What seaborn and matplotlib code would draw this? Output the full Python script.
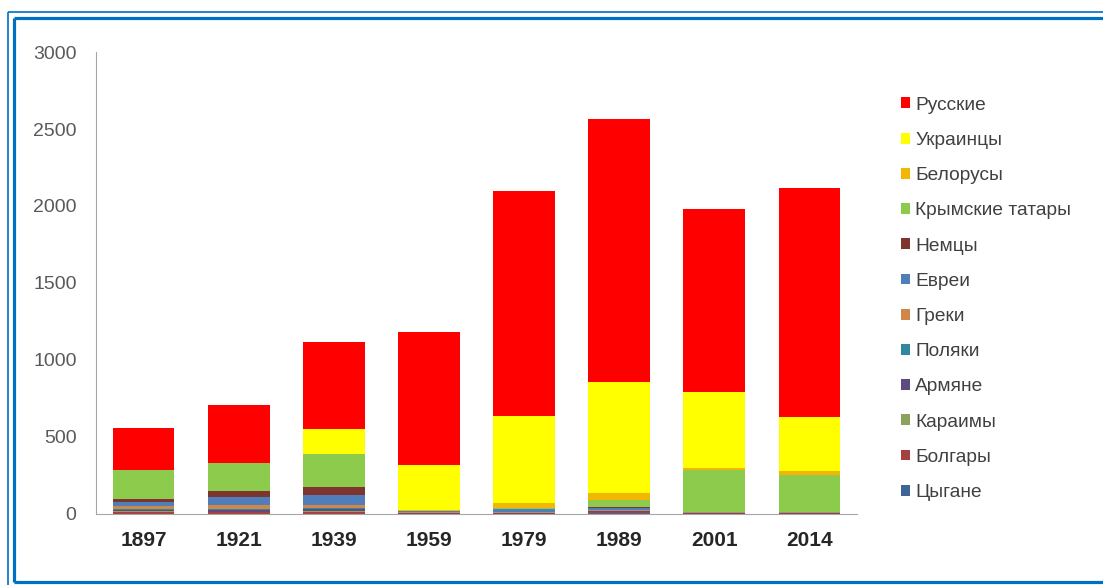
import numpy as np
import pandas as pd
import seaborn as sns
import matplotlib.pyplot as plt
from matplotlib.lines import Line2D

# годы переписей
years = ["1897", "1921", "1939", "1959", "1979", "1989", "2001", "2014"]

# численность, тыс. чел. (снизу вверх по стопке)
tsygane     = [3, 0, 0, 0, 0, 9, 0, 0]
bolgary     = [8, 11, 15, 2, 2, 2, 2, 2]
karaimy     = [6, 5, 5, 0, 0, 1, 0, 0]
armyane     = [8, 10, 13, 3, 2, 5, 5, 6]
polyaki     = [7, 5, 5, 2, 5, 5, 0, 0]
greki       = [18, 28, 21, 3, 3, 3, 3, 3]
evrei       = [25, 54, 65, 8, 18, 17, 3, 2]
nemtsy      = [23, 37, 51, 0, 2, 2, 2, 2]
krym_tatary = [189, 182, 217, 0, 5, 48, 273, 240]
belorusy    = [0, 0, 0, 8, 37, 47, 10, 22]
ukraintsy   = [0, 0, 162, 290, 562, 720, 491, 353]
russkie     = [272, 374, 566, 866, 1464, 1707, 1193, 1489]

groups = ["Цыгане", "Болгары", "Караимы", "Армяне", "Поляки", "Греки",
          "Евреи", "Немцы", "Крымские татары", "Белорусы", "Украинцы", "Русские"]
series = [tsygane, bolgary, karaimy, armyane, polyaki, greki,
          evrei, nemtsy, krym_tatary, belorusy, ukraintsy, russkie]
colors = ["#3F6496", "#A5403F", "#8EA35A", "#5E4A80", "#31889E", "#D1874A",
          "#4F7EBA", "#7E3530", "#8CCB4C", "#F2B705", "#FFFF00", "#FF0000"]

df = pd.DataFrame(dict(zip(groups, series)), index=years)

fig = plt.figure(figsize=(11.03, 5.85), dpi=100)
ax = fig.add_axes([0.087, 0.1214, 0.690, 0.7897])

bottom = np.zeros(len(years))
for g, c in zip(groups, colors):
    sns.barplot(x=years, y=df[g].values, bottom=bottom, color=c, width=0.65,
                label=g, ax=ax, saturation=1, linewidth=0)
    bottom += df[g].values

ax.set_ylim(0, 3000)
ax.set_yticks(range(0, 3001, 500))
ax.set_xlim(-0.5, len(years) - 0.5)
for s in ["top", "right"]:
    ax.spines[s].set_visible(False)
ax.spines["left"].set_color("#A6A6A6")
ax.spines["bottom"].set_color("#A6A6A6")
ax.tick_params(axis="both", length=0)
ax.tick_params(axis="y", pad=14, labelsize=14, labelcolor="#595959")
ax.tick_params(axis="x", pad=12)
for t in ax.get_xticklabels():
    t.set_fontfamily(["Liberation Sans", "DejaVu Sans"])
    t.set_fontweight("bold")
    t.set_fontsize(15)
    t.set_color("#262626")
for t in ax.get_yticklabels():
    t.set_fontfamily(["Liberation Sans", "DejaVu Sans"])

if ax.legend_:
    ax.legend_.remove()
handles, labels = ax.get_legend_handles_labels()
leg = fig.legend(handles[::-1], labels[::-1], loc="upper left",
                 bbox_to_anchor=(0.808, 0.851), frameon=False,
                 prop={"family": "Liberation Sans", "size": 13.8},
                 labelspacing=0.95, handlelength=0.5, handleheight=0.5,
                 handletextpad=0.25, borderpad=0)
for t in leg.get_texts():
    t.set_color("#404040")

# двойная синяя рамка
W, H = 1103, 585
def px(x, y):
    return x / W, 1 - y / H
blue = "#0070C0"
for (x0, y0), (x1, y1), lw in [((7.8, 11.5), (7.8, 585), 1.2), ((7.8, 11.5), (1103, 11.5), 1.2),
                               ((14.2, 18), (14.2, 582), 2.3), ((14.2, 18), (1103, 18), 2.3),
                               ((14.2, 582), (1103, 582), 2.3)]:
    a, b = px(x0, y0)
    c, d = px(x1, y1)
    fig.add_artist(Line2D([a, c], [b, d], color=blue, lw=lw, solid_capstyle="butt"))

plt.savefig("out.png", dpi=100)
